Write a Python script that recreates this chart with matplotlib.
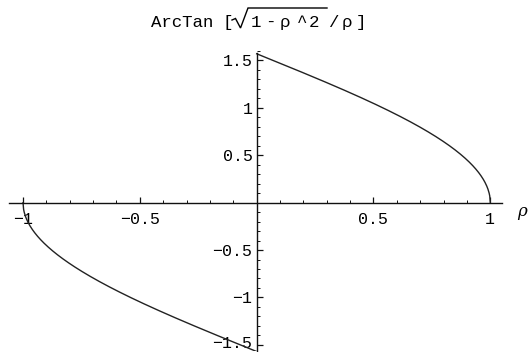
import numpy as np
import matplotlib
matplotlib.use("Agg")
import matplotlib.pyplot as plt
import matplotlib.transforms as mtransforms
from matplotlib.ticker import MultipleLocator, FixedLocator
from matplotlib.lines import Line2D

MONO = ["Liberation Mono", "DejaVu Sans Mono"]

# Sample points of rho on each branch (the function is undefined at rho = 0)
rho_neg = np.linspace(-1.0, -1e-4, 400)
rho_pos = np.linspace(1e-4, 1.0, 400)

x_ticks = [-1, -0.5, 0.5, 1]
x_tick_labels = ["\u22121", "\u22120.5", "0.5", "1"]
y_ticks = [-1.5, -1, -0.5, 0.5, 1, 1.5]
y_tick_labels = ["\u22121.5", "\u22121", "\u22120.5", "0.5", "1", "1.5"]


def f(r):
    return np.arctan(np.sqrt(1 - r ** 2) / r)


fig = plt.figure(figsize=(5.28, 3.52), dpi=100)
W, H = 528, 352
x0, x1 = -1.06, 1.05
y0, y1 = -1.56, 1.60
ax = fig.add_axes([9 / W, 1 - 350.5 / H, (502 - 9) / W, (350.5 - 51) / H])
ax.set_xlim(x0, x1)
ax.set_ylim(y0, y1)

ax.plot(rho_pos, f(rho_pos), color="#222222", lw=1.0)
ax.plot(rho_neg, f(rho_neg), color="#222222", lw=1.0)

for side in ("top", "right"):
    ax.spines[side].set_visible(False)
ax.spines["left"].set_position(("data", 0))
ax.spines["bottom"].set_position(("data", 0))
for side in ("left", "bottom"):
    ax.spines[side].set_linewidth(1.0)
    ax.spines[side].set_color("#111111")
ax.spines["left"].set_bounds(-1.56, 1.58)

ax.xaxis.set_major_locator(FixedLocator(x_ticks))
ax.set_xticklabels(x_tick_labels)
ax.yaxis.set_major_locator(FixedLocator(y_ticks))
ax.set_yticklabels(y_tick_labels)
ax.xaxis.set_minor_locator(MultipleLocator(0.1))
ax.yaxis.set_minor_locator(MultipleLocator(0.1))
ax.tick_params(which="major", direction="in", length=4, width=0.9, color="#111111",
               labelsize=12, pad=3)
ax.tick_params(axis="x", which="major", pad=7)
ax.tick_params(which="minor", direction="in", length=2, width=0.7, color="#111111")
for lab in ax.get_xticklabels() + ax.get_yticklabels():
    lab.set_family(MONO)
ax.patch.set_alpha(0)

# Lift the lowest y label a little so it stays inside the figure
low = ax.get_yticklabels()[0]
low.set_transform(low.get_transform() +
                  mtransforms.ScaledTranslation(0, 3 / 100, fig.dpi_scale_trans))

# Axis symbol at the end of the horizontal axis
fig.text(517 / W, 1 - 211 / H, "\u03c1", family=["DejaVu Serif"], style="italic",
         fontsize=12, va="center", ha="left")


# Title: typeset piece by piece (pixel positions), radical drawn as a line
def px_text(x, s, ha="center"):
    fig.text(x / W, 1 - 27 / H, s, family=MONO, fontsize=12.5, ha=ha, va="baseline")


px_text(151, "ArcTan", ha="left")
for xc, s in [(227.5, "["), (255.5, "1"), (270, "-"), (285, "\u03c1"), (302, "^"),
              (314, "2"), (333.5, "/"), (346.5, "\u03c1"), (360.5, "]")]:
    px_text(xc, s)

rx = [232, 235.5, 240.5, 248, 327]
ry = [20, 18.5, 28, 8, 8]
fig.add_artist(Line2D([v / W for v in rx], [1 - v / H for v in ry],
                      color="black", lw=1.0, solid_joinstyle="miter"))

fig.savefig("out.png", dpi=100)
